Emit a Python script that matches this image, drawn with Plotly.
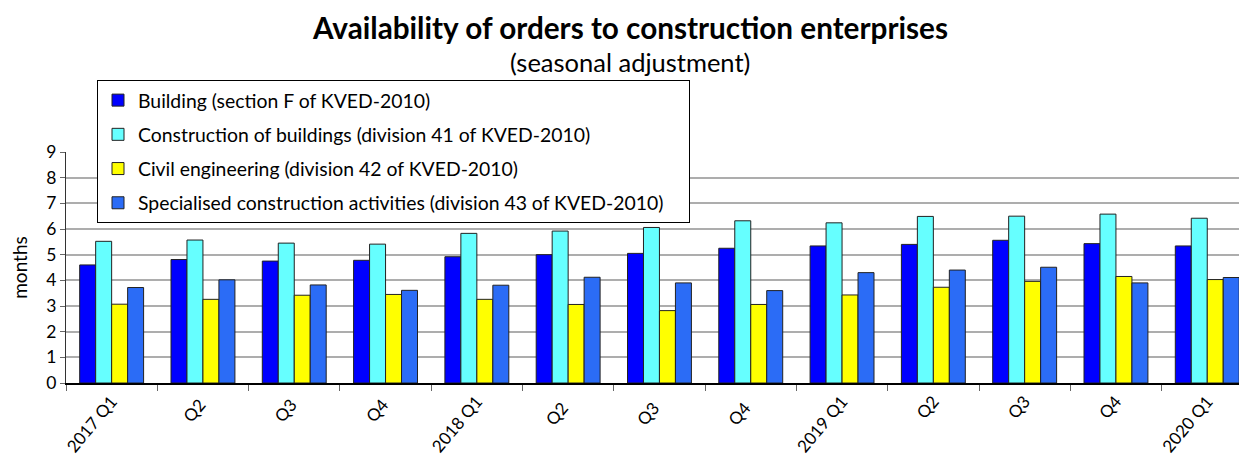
import plotly.graph_objects as go

categories = ["2017 Q1", "Q2 ", "Q3 ", "Q4 ", "2018 Q1", "Q2  ", "Q3  ", "Q4  ",
              "2019 Q1", "Q2", "Q3", "Q4", "2020 Q1"]
building = [4.60, 4.81, 4.75, 4.78, 4.92, 5.00, 5.05, 5.25, 5.34, 5.40, 5.56, 5.43, 5.34]
div41 = [5.52, 5.57, 5.45, 5.41, 5.83, 5.92, 6.06, 6.32, 6.24, 6.49, 6.50, 6.58, 6.42]
div42 = [3.07, 3.26, 3.42, 3.45, 3.26, 3.06, 2.82, 3.06, 3.43, 3.73, 3.96, 4.15, 4.03]
div43 = [3.72, 4.02, 3.82, 3.61, 3.81, 4.12, 3.90, 3.60, 4.30, 4.40, 4.51, 3.90, 4.11]

series_names = [
    "Building (section F of KVED-2010)",
    "Construction of buildings (division 41 of KVED-2010)",
    "Civil engineering (division 42 of KVED-2010)",
    "Specialised construction activities (division 43 of KVED-2010)\u00a0\u00a0\u00a0\u00a0",
]
series_values = [building, div41, div42, div43]
colors = ["#0000FF", "#66FFFF", "#FFFF00", "#2B6CF6"]

FONT = "Lato"

fig = go.Figure()
for i, (name, vals, col) in enumerate(zip(series_names, series_values, colors)):
    fig.add_trace(go.Bar(
        x=categories, y=vals, name=name,
        marker=dict(color=col, line=dict(color="#222222", width=1)),
        legendgroup=f"g{i}",
    ))

# page has an 8px body margin: figure spans page x 8..1247, y 8..466
OFF = 8
W, H = 1247 - OFF, 466 - OFF
ml = 66 - OFF
mt = 152 - OFF
mb = 466 - 383
plot_h = H - mt - mb
plot_w = W - ml


def py(page_y):
    return (H - mb - (page_y - OFF)) / plot_h


def px(page_x):
    return (page_x - OFF - ml) / plot_w


fig.update_layout(
    width=W, height=H,
    margin=dict(l=ml, r=0, t=mt, b=mb, pad=0),
    paper_bgcolor="white", plot_bgcolor="white",
    barmode="group", bargap=0.30, bargroupgap=0,
    font=dict(family=FONT, size=16, color="black"),
    showlegend=True,
    legend=dict(
        x=px(97), y=py(80),
        xanchor="left", yanchor="top",
        bordercolor="black", borderwidth=1, bgcolor="white",
        font=dict(family=FONT, size=19.4),
        tracegroupgap=6,
        itemwidth=30,
    ),
    annotations=[
        dict(text="<b>Availability of orders to construction enterprises</b>",
             x=px(630), y=py(27), xref="paper", yref="paper", showarrow=False,
             xanchor="center", yanchor="middle",
             font=dict(family=FONT, size=29.7)),
        dict(text="(seasonal adjustment)",
             x=px(630), y=py(62), xref="paper", yref="paper", showarrow=False,
             xanchor="center", yanchor="middle",
             font=dict(family=FONT, size=25.5)),
    ],
)

fig.update_yaxes(
    range=[0, 9], dtick=1,
    showgrid=True, gridcolor="#ADADAD", gridwidth=1.5,
    showline=True, linecolor="#333333", linewidth=1,
    ticks="outside", ticklen=5, tickcolor="#666666",
    title=dict(text="months", font=dict(family=FONT, size=19), standoff=16),
    tickfont=dict(family=FONT, size=17.5),
    zeroline=False,
)
fig.update_xaxes(
    range=[-0.5, -0.5 + plot_w / 91.3],
    showline=True, linecolor="black", linewidth=1.5,
    ticks="outside", ticklen=6, tickcolor="#666666", tickson="boundaries",
    tickangle=-50, tickfont=dict(family=FONT, size=17),
    showgrid=False,
)

fig.write_html("out.html")
